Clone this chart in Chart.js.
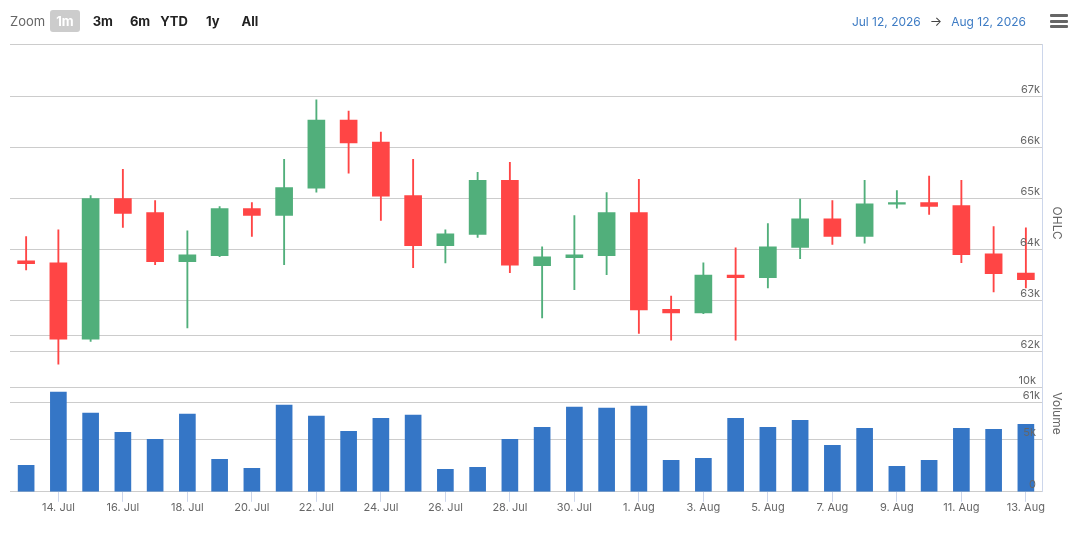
<!DOCTYPE html>
<html>
<head>
<meta charset="utf-8">
<script src="https://cdn.jsdelivr.net/npm/chart.js@4"></script>
<style>
  body { margin: 0; background: #fff; font-family: Inter, "Noto Sans", sans-serif; }
  #wrap { position: relative; width: 1080px; height: 534px; }
  #chart { position: absolute; left: 0; top: 0; }
  .zoom { position: absolute; left: 10px; top: 10px; height: 22px; display: flex; align-items: center; font-size: 13px; }
  .zoom .lbl { color: #666; margin-right: 5px; }
  .zoom .btn { font-weight: 700; color: #222; padding: 0 6px; height: 22px; line-height: 22px; border-radius: 3px; }
  .zoom .btn.on { background: #cccccc; color: #fff; }
  .range { position: absolute; right: 54px; top: 13px; font-size: 12px; color: #3e7cc4; }
  .range span { margin: 0 9px; color: #444; font-size: 13px; }
  .menu { position: absolute; left: 1050px; top: 14px; width: 18px; }
  .menu i { display: block; height: 3px; background: #666; margin-bottom: 2.5px; border-radius: 1px; }
</style>
</head>
<body>
<div id="wrap">
  <canvas id="chart" width="1080" height="534"></canvas>
  <div class="zoom">
    <span class="lbl">Zoom</span>
    <span class="btn on">1m</span>
    <span class="btn" style="margin-left:7px">3m</span>
    <span class="btn" style="margin-left:5px">6m</span>
    <span class="btn" style="margin-left:-2px">YTD</span>
    <span class="btn" style="margin-left:6px">1y</span>
    <span class="btn" style="margin-left:10px">All</span>
  </div>
  <div class="range">Jul 12, 2026<span>&rarr;</span>Aug 12, 2026</div>
  <div class="menu"><i></i><i></i><i></i></div>
</div>
<script>
// daily candles, 13 Jul - 13 Aug
const dates = [
  '13. Jul', '14. Jul', '15. Jul', '16. Jul', '17. Jul', '18. Jul', '19. Jul', '20. Jul',
  '21. Jul', '22. Jul', '23. Jul', '24. Jul', '25. Jul', '26. Jul', '27. Jul', '28. Jul',
  '29. Jul', '30. Jul', '31. Jul', '1. Aug', '2. Aug', '3. Aug', '4. Aug', '5. Aug',
  '6. Aug', '7. Aug', '8. Aug', '9. Aug', '10. Aug', '11. Aug', '12. Aug', '13. Aug'
];
const open = [63776, 63737, 62243, 65000, 64724, 63763, 63881, 64803, 64671, 65204, 66540, 66106, 65060, 64078, 64296, 65356,
              63684, 63842, 63881, 64724, 62829, 62756, 63500, 63447, 64039, 64600, 64256, 64888, 64921, 64862, 63915, 63540];
const high = [64256, 64388, 65060, 65573, 64961, 64369, 64842, 64921, 65770, 66935, 66718, 66303, 65770, 64388, 65514, 65711,
              64053, 64665, 65119, 65375, 63086, 63737, 64033, 64507, 64990, 64961, 65356, 65158, 65441, 65356, 64448, 64428];
const low = [63599, 61749, 62197, 64434, 63703, 62460, 63861, 64256, 63703, 65125, 65500, 64572, 63644, 63737, 64236, 63545,
             62657, 63210, 63506, 62355, 62223, 62740, 62223, 63249, 63822, 64098, 64126, 64809, 64690, 63743, 63170, 63249];
const close = [63723, 62243, 65000, 64710, 63763, 63895, 64803, 64671, 65217, 66540, 66092, 65046, 64078, 64309, 65356, 63692,
               63855, 63895, 64724, 62815, 62756, 63500, 63447, 64053, 64600, 64256, 64896, 64921, 64848, 63901, 63526, 63407];
const volume = [2529, 9548, 7528, 5702, 5029, 7432, 3106, 2240, 8298, 7240, 5798, 7048, 7336, 2144, 2336, 5029,
                6182, 8106, 8009, 8202, 3010, 3202, 7048, 6182, 6856, 4452, 6086, 2433, 3010, 6086, 5990, 6471];

const priceTicks = [61000, 62000, 63000, 64000, 65000, 66000, 67000];
const volumeTicks = [0, 5000, 10000, 15000];

const UP = '#51af7b', DOWN = '#ff4545', VOL = '#3576c6';
const GRID = '#cccccc', LABEL = '#666666';

const candleColor = open.map((o, i) => close[i] >= o ? UP : DOWN);
const wicks = low.map((l, i) => [l, high[i]]);
const bodies = open.map((o, i) => [Math.min(o, close[i]), Math.max(o, close[i])]);

Chart.defaults.font.family = 'Inter, "Noto Sans", sans-serif';
Chart.defaults.color = LABEL;

// top border line + the two pane titles on the right
const paneDecor = {
  id: 'paneDecor',
  afterDraw(chart) {
    const { ctx, chartArea } = chart;
    ctx.save();
    ctx.strokeStyle = GRID;
    ctx.lineWidth = 1;
    ctx.beginPath();
    ctx.moveTo(chartArea.left, chartArea.top + 0.5);
    ctx.lineTo(chartArea.right, chartArea.top + 0.5);
    ctx.stroke();

    const p = chart.scales.price, v = chart.scales.volume;
    const titles = [
      ['OHLC', (chartArea.top + p.getPixelForValue(61000)) / 2],
      ['Volume', (v.getPixelForValue(15000) + chartArea.bottom) / 2]
    ];
    ctx.fillStyle = LABEL;
    ctx.font = '12px Inter, "Noto Sans", sans-serif';
    ctx.textAlign = 'center';
    ctx.textBaseline = 'middle';
    titles.forEach(([txt, y]) => {
      ctx.save();
      ctx.translate(chartArea.right + 15, y);
      ctx.rotate(Math.PI / 2);
      ctx.fillText(txt, 0, 0);
      ctx.restore();
    });
    ctx.restore();
  }
};

new Chart(document.getElementById('chart'), {
  type: 'bar',
  data: {
    labels: dates,
    datasets: [
      {
        label: 'wick',
        data: wicks,
        yAxisID: 'price',
        backgroundColor: candleColor,
        barThickness: 1.2,
        grouped: false,
        order: 2
      },
      {
        label: 'OHLC',
        data: bodies,
        yAxisID: 'price',
        backgroundColor: candleColor,
        barThickness: 17,
        grouped: false,
        order: 1
      },
      {
        label: 'Volume',
        data: volume,
        yAxisID: 'volume',
        backgroundColor: VOL,
        barThickness: 16,
        grouped: false,
        order: 3
      }
    ]
  },
  options: {
    responsive: false,
    animation: false,
    layout: { padding: { top: 44, right: 38, bottom: 21, left: 10 } },
    plugins: { legend: { display: false }, tooltip: { enabled: false } },
    scales: {
      x: {
        offset: true,
        border: { display: false },
        grid: {
          offset: false,
          drawOnChartArea: false,
          tickLength: 10,
          tickColor: (c) => (c.index % 2 === 1 ? '#ccd6eb' : 'rgba(0,0,0,0)')
        },
        ticks: {
          autoSkip: false,
          maxRotation: 0,
          padding: -1,
          font: { size: 11 },
          callback: function (val, i) { return i % 2 === 1 ? this.getLabelForValue(val) : ''; }
        }
      },
      price: {
        position: 'right',
        min: 59247,
        max: 68032,
        afterBuildTicks: (s) => { s.ticks = priceTicks.map(v => ({ value: v })); },
        border: { display: true, color: '#ccd6eb', width: 1 },
        grid: { color: GRID, drawTicks: false },
        ticks: {
          mirror: true,
          padding: -2,
          labelOffset: -7,
          z: 1,
          font: { size: 11 },
          callback: (v) => (v / 1000) + 'k'
        }
      },
      volume: {
        position: 'right',
        min: 0,
        max: 42885,
        afterBuildTicks: (s) => { s.ticks = volumeTicks.map(v => ({ value: v })); },
        border: { display: false },
        grid: { color: GRID, drawTicks: false },
        ticks: {
          mirror: true,
          padding: -2,
          labelOffset: -7,
          z: 1,
          font: { size: 11 },
          callback: (v) => (v === 15000 ? '' : v === 0 ? '0' : (v / 1000) + 'k')
        }
      }
    }
  },
  plugins: [paneDecor]
});
</script>
</body>
</html>
